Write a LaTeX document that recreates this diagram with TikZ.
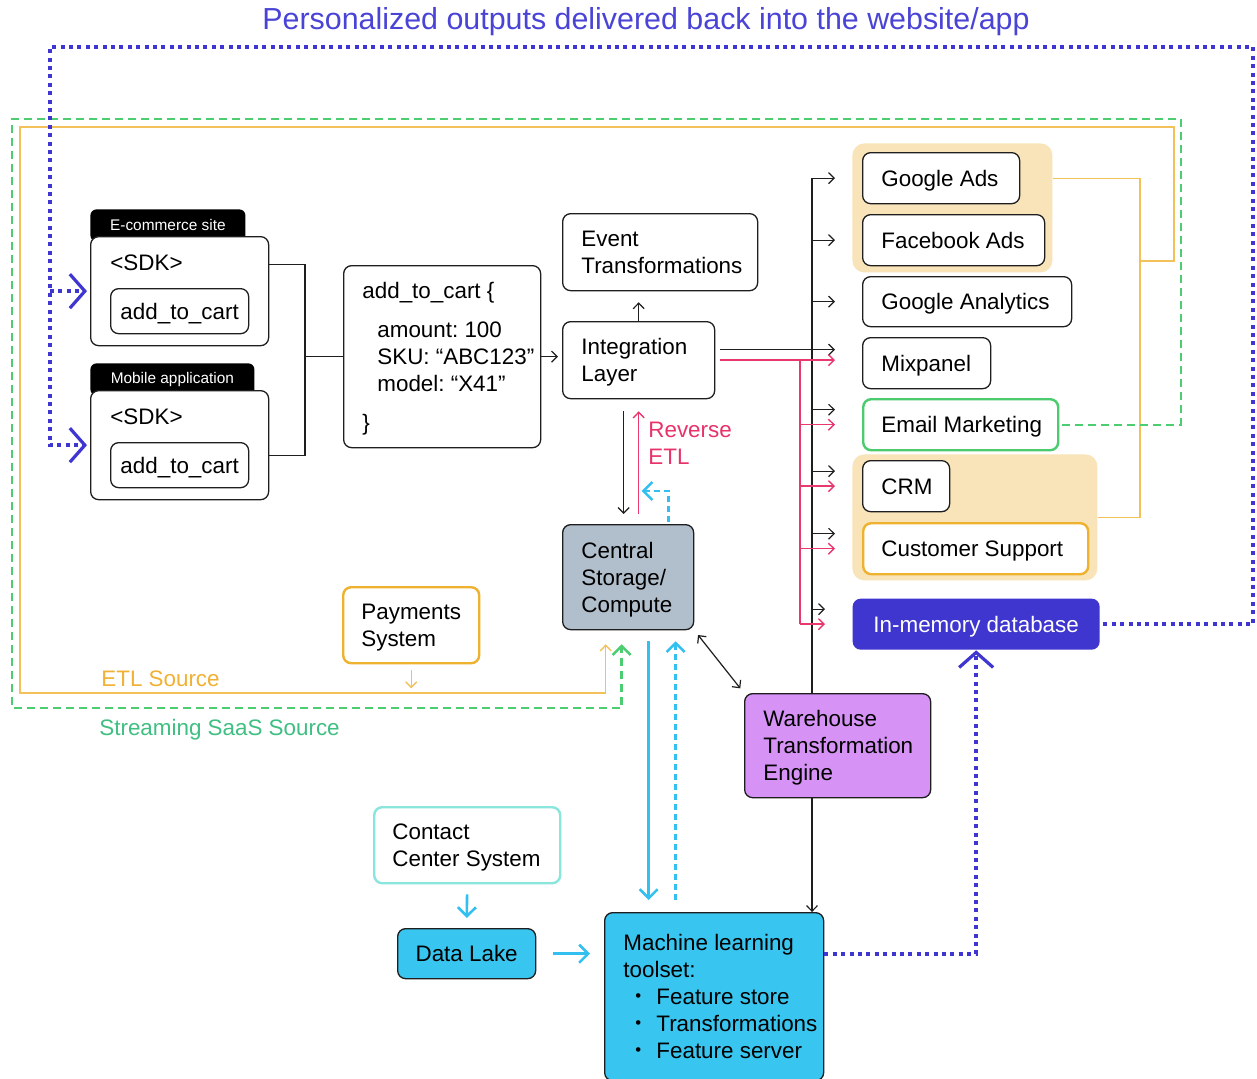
\documentclass[tikz,border=0pt]{standalone}
\usepackage{fontspec}
\setmainfont{Liberation Sans}
\usetikzlibrary{arrows.meta}

\definecolor{ink}{HTML}{1E1E1E}
\definecolor{titleblue}{HTML}{4A44D6}
\definecolor{dotblue}{HTML}{3F36D1}
\definecolor{imdblue}{HTML}{3F35CF}
\definecolor{groupfill}{HTML}{F8E4B8}
\definecolor{orangeline}{HTML}{F2C15A}
\definecolor{etltext}{HTML}{F0B135}
\definecolor{payorange}{HTML}{EEB22F}
\definecolor{greenline}{HTML}{4CCD72}
\definecolor{greentext}{HTML}{3FBF82}
\definecolor{emailgreen}{HTML}{4CCB6E}
\definecolor{pinkline}{HTML}{E8386E}
\definecolor{pinktext}{HTML}{E8336A}
\definecolor{cyanline}{HTML}{33BFEF}
\definecolor{cyanfill}{HTML}{38C5EF}
\definecolor{contactcyan}{HTML}{8AE5DD}
\definecolor{ctrfill}{HTML}{B1BECB}
\definecolor{whfill}{HTML}{D693F5}

\newcommand\mainsize{\fontsize{11.2}{13.5}\selectfont}
\newcommand\mlitem{\hspace*{6pt}\makebox[10.5pt][l]{\raisebox{0.16em}{\scalebox{0.75}{\textbullet}}}}

\begin{document}
\frenchspacing
\begin{tikzpicture}[
  x=0.5pt, y=-0.5pt,
  txt/.style={font=\mainsize, inner sep=0pt},
  intext/.style={txt, anchor=west, align=left},
  inbox/.style={intext, text height=8pt, text depth=0pt},
  inboxm/.style={intext, text depth=0pt},
  box/.style={font=\mainsize, draw=ink, line width=0.65pt, rounded corners=4pt,
    fill=white, align=center, inner sep=0pt, anchor=north west,
    text height=8pt, text depth=0pt},
  grp/.style={fill=groupfill, rounded corners=6pt, inner sep=0pt, anchor=north west},
  tabbox/.style={fill=black, text=white, rounded corners=3pt, anchor=north west,
    inner sep=0pt, font=\fontsize{7.7}{9}\selectfont},
  conn/.style={draw=ink, line width=0.6pt},
  pinkc/.style={draw=pinkline, line width=0.7pt},
  orng/.style={draw=orangeline, line width=0.7pt},
  greendash/.style={draw=greenline, line width=1.2pt, dash pattern=on 4pt off 2.5pt},
  cyans/.style={draw=cyanline, line width=1.3pt},
  cyandash/.style={draw=cyanline, line width=1.2pt, dash pattern=on 3pt off 2pt},
  bluedot/.style={draw=dotblue, line width=2pt, dash pattern=on 2pt off 2.2pt},
  tip/.style={-{Straight Barb[length=2.8pt,width=5.5pt]}},
  chevS/.style={-{Straight Barb[length=4.5pt,width=9pt]}},
  chevB/.style={-{Straight Barb[length=7.5pt,width=17pt,line width=1.6pt]}},
]
\fill[white] (0,0) rectangle (1257,1078);
\useasboundingbox (0,0) rectangle (1257,1078);

% heading
\node[txt, text=titleblue, font=\fontsize{15.2}{18}\selectfont] (title) at (646,22)
  {Personalized outputs delivered back into the website/app};

% destination groups
\node[grp, minimum width=100pt, minimum height=64.5pt] (g1) at (852,143) {};
\node[grp, minimum width=122.5pt, minimum height=63pt] (g2) at (852,454) {};

% destinations
\node[box, minimum width=78.5pt, minimum height=25.5pt] (gads) at (862,152) {};
\node[inbox] (gadst) at ([xshift=9.5pt]gads.west) {Google Ads};
\node[box, minimum width=91pt, minimum height=25.5pt] (fb) at (862,214) {};
\node[inbox] (fbt) at ([xshift=9.5pt]fb.west) {Facebook Ads};
\node[box, minimum width=104.5pt, minimum height=25pt] (ga) at (862,276) {};
\node[inbox] (gat) at ([xshift=9.5pt]ga.west) {Google Analytics};
\node[box, minimum width=64pt, minimum height=25.5pt] (mix) at (862,337) {};
\node[inbox] (mixt) at ([xshift=9.5pt]mix.west) {Mixpanel};
\node[box, draw=emailgreen, line width=1.2pt, minimum width=97.5pt, minimum height=25.5pt] (email) at (862,398) {};
\node[inbox] (emailt) at ([xshift=9.5pt]email.west) {Email Marketing};
\node[box, minimum width=43.5pt, minimum height=25.5pt] (crm) at (862,460) {};
\node[inbox] (crmt) at ([xshift=9.5pt]crm.west) {CRM};
\node[box, draw=payorange, line width=1.2pt, minimum width=112.5pt, minimum height=25.5pt] (sup) at (862,522) {};
\node[inbox] (supt) at ([xshift=9.5pt]sup.west) {Customer Support};
\node[box, draw=none, fill=imdblue, text=white, minimum width=123.5pt, minimum height=25.5pt] (imd) at (852,598) {In-memory database};

% sources
\node[tabbox, minimum width=77.5pt, minimum height=16pt] (ecomtab) at (90,209) {E-commerce site};
\node[box, minimum width=89pt, minimum height=54.5pt] (ecom) at (90,236) {};
\node[inbox] (ecomsdk) at (110,262) {<SDK>};
\node[box, minimum width=69pt, minimum height=22.5pt] (ecomevt) at (110,288) {add\_to\_cart};

\node[tabbox, minimum width=82pt, minimum height=16pt] (mobtab) at (90,363) {Mobile application};
\node[box, minimum width=89pt, minimum height=54.5pt] (mob) at (90,390) {};
\node[inbox] (mobsdk) at (110,416) {<SDK>};
\node[box, minimum width=69pt, minimum height=22.5pt] (mobevt) at (110,442) {add\_to\_cart};

% event payload
\node[box, minimum width=98.5pt, minimum height=91pt] (code) at (343,265) {};
\node[inboxm] (codet) at ([xshift=9.5pt]code.west)
  {add\_to\_cart \{\\[6pt]
   \hspace*{7.5pt}amount: 100\\
   \hspace*{7.5pt}SKU: “ABC123”\\
   \hspace*{7.5pt}model: “X41”\\[6pt]
   \}};

% pipeline
\node[box, minimum width=97.5pt, minimum height=38.5pt] (evt) at (562,213) {};
\node[inboxm] (evtt) at ([xshift=9.5pt]evt.west) {Event\\Transformations};
\node[box, minimum width=76pt, minimum height=38.5pt] (intg) at (562,321) {};
\node[inboxm] (intgt) at ([xshift=9.5pt]intg.west) {Integration\\Layer};
\node[box, fill=ctrfill, minimum width=65.5pt, minimum height=52.5pt] (ctr) at (562,524) {};
\node[inboxm] (ctrt) at ([xshift=9.5pt]ctr.west) {Central\\Storage/\\Compute};
\node[box, fill=whfill, minimum width=93pt, minimum height=52pt] (wh) at (744,693) {};
\node[inboxm] (wht) at ([xshift=9.5pt]wh.west) {Warehouse\\Transformation\\Engine};
\node[box, draw=payorange, line width=1.2pt, minimum width=68pt, minimum height=38pt] (pay) at (342,586) {};
\node[inboxm] (payt) at ([xshift=9.5pt]pay.west) {Payments\\System};
\node[box, draw=contactcyan, line width=1.2pt, minimum width=93pt, minimum height=38pt] (cc) at (373,806) {};
\node[inboxm] (cct) at ([xshift=9.5pt]cc.west) {Contact\\Center System};
\node[box, fill=cyanfill, minimum width=69pt, minimum height=25pt] (dl) at (397,928) {Data Lake};
\node[box, fill=cyanfill, minimum width=109.5pt, minimum height=84pt] (ml) at (604,912) {};
\node[inboxm] (mlt) at ([xshift=9.5pt]ml.west)
  {Machine learning\\toolset:\\\mlitem Feature store\\\mlitem Transformations\\\mlitem Feature server};

% labels
\node[intext, text=pinktext] (retl) at (648,443.5) {Reverse\\ETL};
\node[intext, text=etltext] (etl) at (101,679) {ETL Source};
\node[intext, text=greentext] (saas) at (99,730) {Streaming SaaS Source};

% SDKs into the payload
\coordinate (sj) at (305,356);
\draw[conn] ([yshift=13.25pt]ecom.east) -| (sj |- code.west) -- (code.west);
\draw[conn] ([yshift=-5.25pt]mob.east) -| (sj |- code.west);
\draw[conn, tip, shorten >=2pt] (code.east) -- (code.east -| intg.west);
\draw[conn, tip, shorten >=5.5pt] (intg.north) -- (intg.north |- evt.south);

% fan-out bus to destinations
\coordinate (bus) at (812,0);
\coordinate (pbus) at (800,0);
\draw[conn] (bus |- gads.west) -- (bus |- wh.north);
\draw[conn, tip] (wh.south -| bus) -- (bus |- ml.north);
\foreach \n in {gads, fb, ga}
  \draw[conn, tip] (bus |- \n.west) -- ([xshift=-13.5pt]\n.west);
\foreach \n in {email, crm, sup, imd}
  \draw[conn, tip] ([yshift=7.5pt]\n.west -| bus) -- ([xshift=-13.5pt, yshift=7.5pt]\n.west);
\draw[conn, tip] ([xshift=2.5pt, yshift=5.25pt]intg.east) -- ([xshift=-13.5pt, yshift=5.25pt]intg.east -| mix.west);

% reverse ETL fan-out
\draw[pinkc, tip] ([xshift=2.5pt]intg.east) -- ([xshift=-13.5pt]intg.east -| mix.west);
\draw[pinkc] (intg.east -| pbus) -- (imd.west -| pbus);
\foreach \n in {email, crm, sup, imd}
  \draw[pinkc, tip] (\n.west -| pbus) -- ([xshift=-13.5pt]\n.west);

% integration <-> storage
\draw[conn, tip, shorten <=6pt, shorten >=5pt] ([xshift=-7.5pt]intg.south) -- ([xshift=-7.5pt]intg.south |- ctr.north);
\draw[pinkc, tip, shorten <=5pt, shorten >=6pt] (intg.south |- ctr.north) -- (intg.south);
\draw[cyandash, chevS, shorten <=1pt] ([xshift=20.25pt]ctr.north) -- ++(0,-33) -- ++(-27,0);

% storage <-> warehouse engine
\draw[conn, {Straight Barb[length=2.8pt,width=5.5pt]}-{Straight Barb[length=2.8pt,width=5.5pt]}, shorten <=3pt, shorten >=3pt] (ctr.south east) -- (wh.north west);

% storage <-> machine learning
\draw[cyans, chevS, shorten <=5.5pt, shorten >=6pt] ([xshift=10.25pt]ctr.south) -- ([xshift=10.25pt]ctr.south |- ml.north);
\draw[cyandash, chevS, shorten <=6pt, shorten >=5.5pt] ([xshift=23.75pt]ctr.south |- ml.north) -- ([xshift=23.75pt]ctr.south);
\draw[cyans, chevS, shorten <=5pt, shorten >=5pt] (cc.south) -- (dl.north);
\draw[cyans, chevS, shorten <=8.5pt, shorten >=7pt] (dl.east) -- (dl.east -| ml.west);

% ETL source loop
\draw[orng, tip, shorten <=3pt] (pay.south) -- ++(0,24);
\coordinate (ob) at (1140,261);
\coordinate (oTR) at (1174,127);
\coordinate (oBL) at (20,693);
\draw[orng] ([yshift=14.75pt]g1.east) -| (ob |- g2.east) -- (g2.east);
\draw[orng, tip, shorten >=7pt] (ob) -| (oTR) -| (oBL) -| ([xshift=-11.25pt]ctr.south);

% streaming SaaS loop
\coordinate (gTR) at (1181,119);
\coordinate (gBL) at (12,708);
\draw[greendash, chevS, shorten <=1.5pt, shorten >=7pt] (email.east) -| (gTR) -| (gBL) -| ([xshift=-3.25pt]ctr.south);

% personalized outputs back to the apps
\coordinate (bTR) at (1253,47);
\coordinate (bTL) at (50,47);
\draw[bluedot, chevB, shorten <=1.5pt, shorten >=1.5pt] (imd.east) -| (bTR) -- (bTL) |- (mob.west);
\draw[bluedot, chevB, shorten >=1.5pt] (bTL |- ecom.west) -- (ecom.west);
\draw[bluedot, chevB] ([yshift=21.5pt]ml.east) -| (imd.south);
\end{tikzpicture}
\end{document}
